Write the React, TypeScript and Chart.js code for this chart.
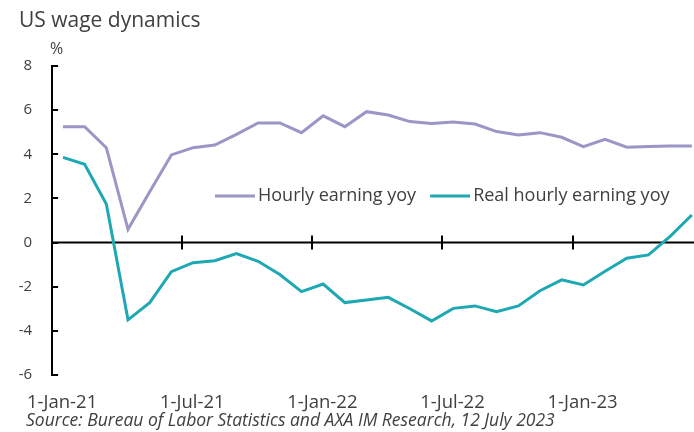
import React, { useEffect, useRef } from 'react';
import { Chart, registerables } from 'chart.js';

Chart.register(...registerables);

// ---- Data ----
const months = [
  'Jan-21', 'Feb-21', 'Mar-21', 'Apr-21', 'May-21', 'Jun-21', 'Jul-21', 'Aug-21', 'Sep-21', 'Oct-21', 'Nov-21', 'Dec-21',
  'Jan-22', 'Feb-22', 'Mar-22', 'Apr-22', 'May-22', 'Jun-22', 'Jul-22', 'Aug-22', 'Sep-22', 'Oct-22', 'Nov-22', 'Dec-22',
  'Jan-23', 'Feb-23', 'Mar-23', 'Apr-23', 'May-23', 'Jun-23',
];
const hourlyEarning = [
  5.25, 5.25, 4.3, 0.6, 2.3, 3.97, 4.3, 4.42, 4.9, 5.42, 5.42, 4.98,
  5.74, 5.25, 5.93, 5.78, 5.48, 5.4, 5.46, 5.37, 5.03, 4.87, 4.98, 4.77,
  4.35, 4.68, 4.32, 4.35, 4.38, 4.38,
];
const realHourlyEarning = [
  3.86, 3.55, 1.75, -3.5, -2.72, -1.32, -0.91, -0.82, -0.5, -0.85, -1.45, -2.22,
  -1.88, -2.72, -2.6, -2.48, -3.0, -3.55, -2.98, -2.87, -3.13, -2.87, -2.18, -1.69,
  -1.92, -1.3, -0.71, -0.56, 0.28, 1.25,
];
const seriesLabels = ['Hourly earning yoy', 'Real hourly earning yoy'];
const xTickMonths = [0, 6, 12, 18, 24];
const xTickLabels = ['1-Jan-21', '1-Jul-21', '1-Jan-22', '1-Jul-22', '1-Jan-23'];
const yTicks = [-6, -4, -2, 0, 2, 4, 6, 8];
const titleText = 'US wage dynamics';
const unitText = '%';
const sourceText = 'Source: Bureau of Labor Statistics and AXA IM Research, 12 July 2023';

const COLORS = ['#9a96c6', '#1ea8b4'];
const TEXT = '#404040';
const FONT = '"Open Sans", "Noto Sans", sans-serif';

const decorPlugin = {
  id: 'decor',
  beforeDatasetsDraw(chart: any) {
    const { ctx, chartArea, scales } = chart;
    const x = scales.x;
    const y = scales.y;
    const y0 = y.getPixelForValue(0);
    ctx.save();
    ctx.strokeStyle = '#000';
    ctx.lineWidth = 2;
    // zero line
    ctx.beginPath();
    ctx.moveTo(chartArea.left, y0);
    ctx.lineTo(chartArea.right, y0);
    ctx.stroke();
    // x tick marks crossing the zero line
    xTickMonths.forEach((m) => {
      if (m === 0) return;
      const px = Math.round(x.getPixelForValue(m));
      ctx.beginPath();
      ctx.moveTo(px, y0 - 7);
      ctx.lineTo(px, y0 + 7);
      ctx.stroke();
    });
    // y tick marks pointing inward
    yTicks.forEach((v) => {
      const py = Math.round(y.getPixelForValue(v));
      ctx.beginPath();
      ctx.moveTo(chartArea.left, py);
      ctx.lineTo(chartArea.left + 6, py);
      ctx.stroke();
    });
    ctx.restore();
  },
  afterDraw(chart: any) {
    const { ctx } = chart;
    ctx.save();
    ctx.fillStyle = TEXT;
    ctx.textBaseline = 'middle';
    ctx.textAlign = 'left';
    // title
    ctx.font = `21px ${FONT}`;
    ctx.fillText(titleText, 19, 21);
    // unit
    ctx.font = `16px ${FONT}`;
    ctx.fillText(unitText, 50, 49);
    // legend
    ctx.font = `18px ${FONT}`;
    let lx = 215;
    const ly = 196;
    chart.data.datasets.forEach((ds: any) => {
      ctx.strokeStyle = ds.borderColor;
      ctx.lineWidth = 3;
      ctx.beginPath();
      ctx.moveTo(lx, ly);
      ctx.lineTo(lx + 40, ly);
      ctx.stroke();
      lx += 43;
      ctx.fillStyle = TEXT;
      ctx.fillText(ds.label, lx, ly);
      lx += ctx.measureText(ds.label).width + 14;
    });
    // source
    ctx.font = `italic 17.5px ${FONT}`;
    ctx.fillStyle = TEXT;
    ctx.fillText(sourceText, 26, 421);
    ctx.restore();
  },
};

export default function App() {
  const canvasRef = useRef<HTMLCanvasElement | null>(null);

  useEffect(() => {
    if (!canvasRef.current) return;
    const chart = new Chart(canvasRef.current, {
      type: 'line',
      data: {
        datasets: [
          {
            label: seriesLabels[0],
            data: hourlyEarning.map((v, i) => ({ x: i + 0.5, y: v })),
            borderColor: COLORS[0],
            backgroundColor: COLORS[0],
            borderWidth: 3,
            pointRadius: 0,
            tension: 0,
          },
          {
            label: seriesLabels[1],
            data: realHourlyEarning.map((v, i) => ({ x: i + 0.5, y: v })),
            borderColor: COLORS[1],
            backgroundColor: COLORS[1],
            borderWidth: 3,
            pointRadius: 0,
            tension: 0,
          },
        ],
      },
      options: {
        animation: false,
        responsive: true,
        maintainAspectRatio: false,
        devicePixelRatio: 1,
        layout: { padding: { top: 66, left: 0, right: 0, bottom: 0 } },
        plugins: {
          legend: { display: false },
          title: { display: false },
          tooltip: { enabled: false },
        },
        scales: {
          x: {
            type: 'linear',
            min: 0,
            max: months.length - 0.4,
            afterFit(s: any) { s.height = 57; },
            afterBuildTicks(s: any) { s.ticks = xTickMonths.map((v) => ({ value: v })); },
            grid: { display: false, drawTicks: false },
            border: { display: false },
            ticks: {
              autoSkip: false,
              maxRotation: 0,
              padding: 17,
              labelOffset: 10,
              color: TEXT,
              font: { family: FONT, size: 18.5 },
              callback: (v: any) => {
                const idx = xTickMonths.indexOf(Number(v));
                return idx >= 0 ? xTickLabels[idx] : '';
              },
            },
          },
          y: {
            type: 'linear',
            min: -6,
            max: 8,
            afterFit(s: any) { s.width = 52; },
            afterBuildTicks(s: any) { s.ticks = yTicks.map((v) => ({ value: v })); },
            grid: { display: true, drawOnChartArea: false, drawTicks: false },
            border: { display: true, color: '#000', width: 2 },
            ticks: {
              padding: 20,
              color: TEXT,
              font: { family: FONT, size: 15 },
            },
          },
        },
      },
      plugins: [decorPlugin],
    } as any);
    return () => chart.destroy();
  }, []);

  return (
    <div style={{ position: 'fixed', left: 0, top: 0, width: 694, height: 432, background: '#fff' }}>
      <canvas ref={canvasRef} />
    </div>
  );
}
